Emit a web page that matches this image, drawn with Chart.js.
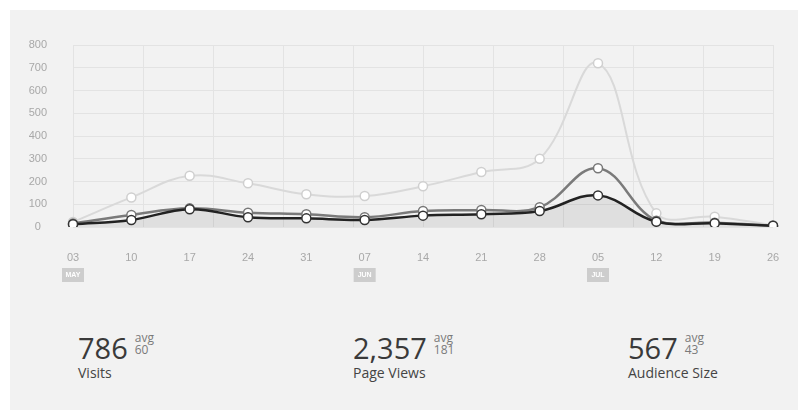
<!DOCTYPE html>
<html>
<head>
<meta charset="utf-8">
<script src="https://cdn.jsdelivr.net/npm/chart.js@4"></script>
<style>
  html, body { margin: 0; padding: 0; background: #f2f2f2; }
  body { width: 798px; height: 410px; position: relative; overflow: hidden; }
  #edgeTop { position: absolute; left: 0; top: 0; width: 100%; height: 10px; background: #fff; }
  #edgeLeft { position: absolute; left: 0; top: 0; width: 10px; height: 100%; background: #fff; }
  #wrap { position: absolute; left: 0; top: 0; width: 798px; height: 300px; }
  .stat { position: absolute; top: 330px; font-family: "Open Sans", sans-serif; color: #3a3a3a; }
  .stat .total { font-size: 29px; line-height: 36px; display: inline-block; vertical-align: top; }
  .stat .avg { display: inline-block; vertical-align: top; margin-left: 7px; font-size: 12px; line-height: 12px; color: #7a7a7a; padding-top: 2px; }
  .stat .name { font-size: 14px; line-height: 16px; color: #444; margin-top: -1px; }
</style>
</head>
<body>
<div id="edgeTop"></div>
<div id="edgeLeft"></div>
<div id="wrap"><canvas id="chart"></canvas></div>
<div id="stats"></div>
<script>
const weeks = ['03', '10', '17', '24', '31', '07', '14', '21', '28', '05', '12', '19', '26'];
const months = ['MAY', '', '', '', '', 'JUN', '', '', '', 'JUL', '', '', ''];

// three series, light / mid / dark
const pageViews = [22, 130, 225, 192, 144, 136, 179, 242, 300, 720, 60, 45, 8];
const audience = [15, 53, 82, 63, 56, 43, 70, 75, 87, 258, 28, 19, 6];
const visits = [12, 31, 78, 43, 38, 31, 50, 56, 70, 139, 23, 16, 6];

const statTotals = ['786', '2,357', '567'];
const statAvgs = ['60', '181', '43'];
const statNames = ['Visits', 'Page Views', 'Audience Size'];
const statLeft = [78, 353, 628];

const gridColor = '#e3e3e3';
const tickColor = '#a8a8a8';
const tickFont = { family: '"Liberation Sans", Arial, sans-serif', size: 11 };

// month badges under the week labels
const monthBadges = {
  id: 'monthBadges',
  afterDraw(chart) {
    const xs = chart.scales.x;
    const ctx = chart.ctx;
    ctx.save();
    months.forEach((m, i) => {
      if (!m) return;
      const cx = xs.getPixelForValue(i);
      const top = xs.top + 41;
      ctx.fillStyle = '#cdcdcd';
      ctx.fillRect(cx - 11, top, 22, 14);
      ctx.fillStyle = '#fff';
      ctx.font = 'bold 7px "Liberation Sans", Arial, sans-serif';
      ctx.textAlign = 'center';
      ctx.textBaseline = 'middle';
      ctx.fillText(m, cx, top + 7.5);
    });
    ctx.restore();
  }
};

const ctx = document.getElementById('chart').getContext('2d');
new Chart(ctx, {
  type: 'line',
  data: {
    labels: weeks,
    datasets: [
      {
        label: 'Page Views',
        data: pageViews,
        xAxisID: 'x',
        order: 3,
        borderColor: '#d9d9d9',
        borderWidth: 2,
        pointBackgroundColor: '#fff',
        pointBorderColor: '#cfcfcf',
        pointBorderWidth: 1.5,
        pointRadius: 4.5,
        tension: 0.4,
        fill: false,
      },
      {
        label: 'Audience Size',
        data: audience,
        xAxisID: 'x',
        order: 2,
        borderColor: '#7a7a7a',
        borderWidth: 2.5,
        pointBackgroundColor: '#fff',
        pointBorderColor: '#777',
        pointBorderWidth: 1.5,
        pointRadius: 4.5,
        tension: 0.4,
        fill: false,
      },
      {
        label: 'Visits',
        data: visits,
        xAxisID: 'x',
        order: 1,
        borderColor: '#222',
        borderWidth: 2.5,
        backgroundColor: 'rgba(0,0,0,0.08)',
        pointBackgroundColor: '#fff',
        pointBorderColor: '#333',
        pointBorderWidth: 1.5,
        pointRadius: 4.5,
        tension: 0.4,
        fill: 'origin',
      },
    ],
  },
  options: {
    responsive: true,
    maintainAspectRatio: false,
    animation: false,
    layout: { padding: { top: 45, right: 25, left: 0, bottom: 0 } },
    plugins: { legend: { display: false }, tooltip: { enabled: false } },
    scales: {
      x: {
        type: 'category',
        grid: { display: false },
        border: { display: false },
        ticks: { color: tickColor, font: tickFont, padding: 16, maxRotation: 0, autoSkip: false },
        afterFit(s) { s.height = 73; },
      },
      x2: {
        type: 'linear',
        position: 'bottom',
        min: 0,
        max: 10,
        ticks: { display: false, stepSize: 1 },
        grid: { color: gridColor, drawTicks: false },
        border: { display: false },
        afterFit(s) { s.height = 0; },
      },
      y: {
        min: 0,
        max: 800,
        ticks: { stepSize: 100, color: tickColor, font: tickFont, padding: 26, crossAlign: 'center' },
        grid: { color: gridColor, drawTicks: false },
        border: { display: false },
        afterFit(s) { s.width = 73; },
      },
    },
  },
  plugins: [monthBadges],
});

// summary numbers under the chart
const stats = document.getElementById('stats');
statTotals.forEach((t, i) => {
  const d = document.createElement('div');
  d.className = 'stat';
  d.style.left = statLeft[i] + 'px';
  d.innerHTML = '<span class="total">' + t + '</span><span class="avg">avg<br>' + statAvgs[i] + '</span>' +
    '<div class="name">' + statNames[i] + '</div>';
  stats.appendChild(d);
});
</script>
</body>
</html>
